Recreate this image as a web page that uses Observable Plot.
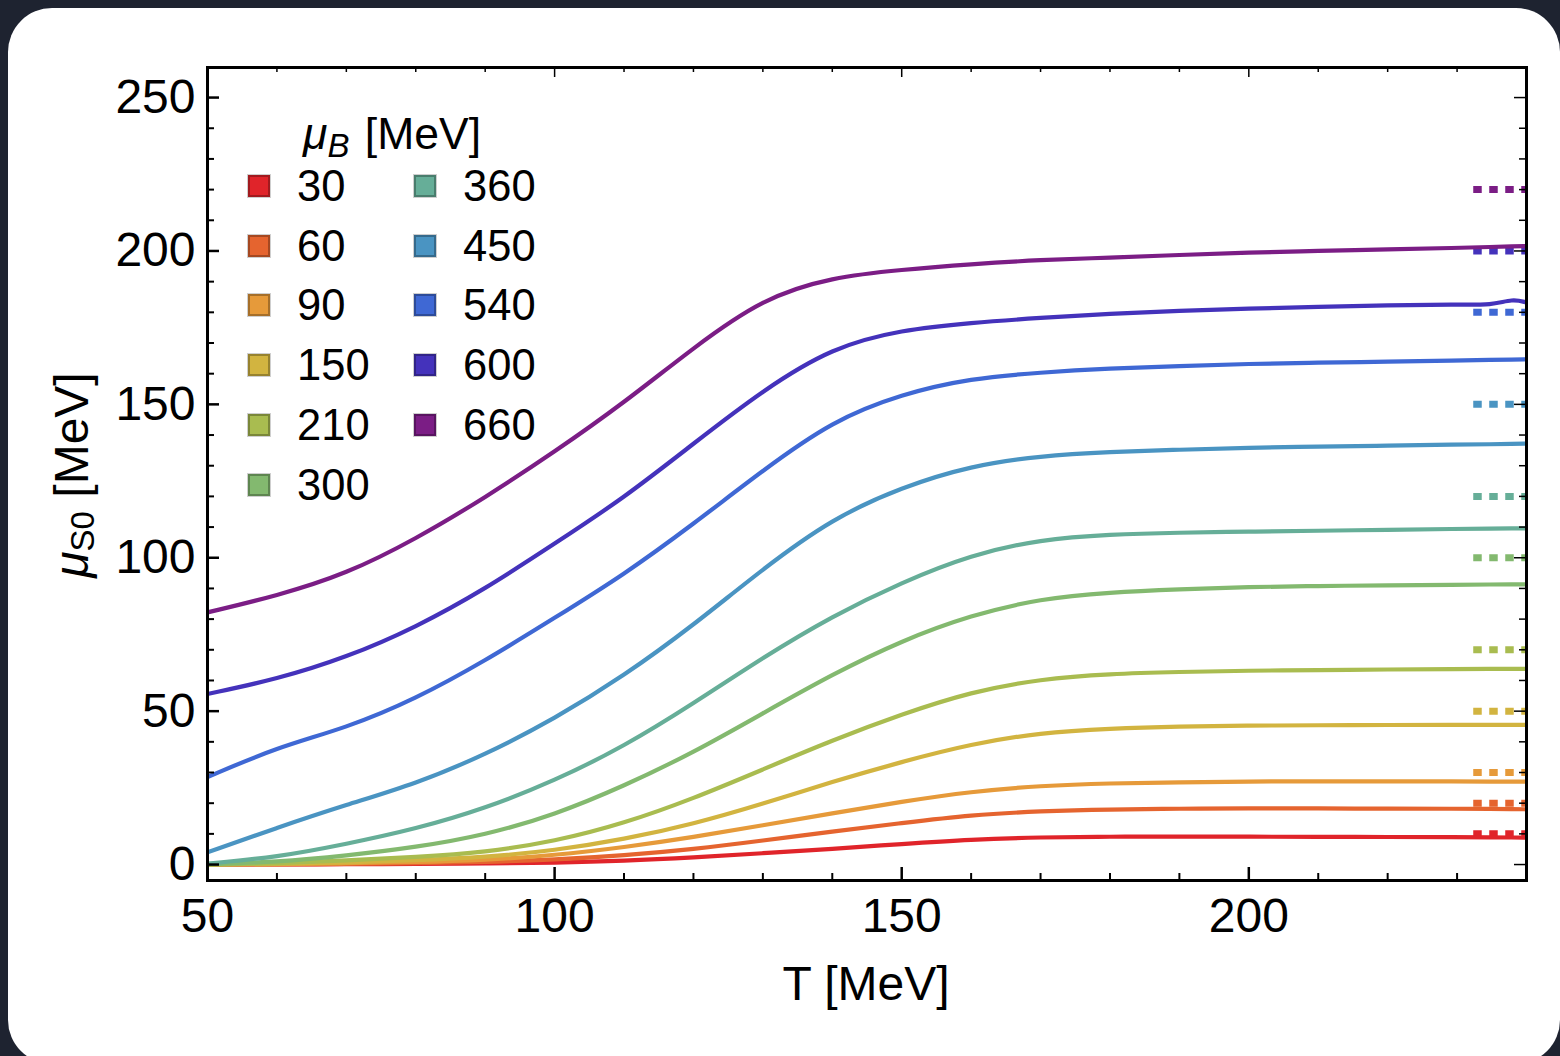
<!DOCTYPE html>
<html>
<head>
<meta charset="utf-8">
<script src="https://cdn.jsdelivr.net/npm/d3@7"></script>
<script src="https://cdn.jsdelivr.net/npm/@observablehq/plot@0.6"></script>
<style>
  html, body { margin: 0; padding: 0; background: #1e2330; width: 1560px; height: 1056px; overflow: hidden; }
  #card { position: absolute; left: 8px; top: 8px; width: 1552px; height: 1056px; background: #fff; border-radius: 44px; }
  #chart { position: absolute; left: 0; top: 0; }
  .txt { position: absolute; font-family: "Liberation Sans", Arial, Helvetica, sans-serif; color: #000; white-space: nowrap; }
  #xlab { left: 866px; top: 960px; font-size: 48px; line-height: 48px; transform: translateX(-50%); }
  #ylab { left: 77px; top: 475px; font-size: 48px; line-height: 48px; transform: translate(-50%, -50%) rotate(-90deg); }
  #ylab sub { font-size: 33px; vertical-align: -6px; }
  #legtitle { left: 303px; top: 112px; font-size: 44.5px; line-height: 44px; }
  #legtitle sub { font-size: 33px; vertical-align: -8px; font-style: italic; margin-right: 3px; }
  #legend { position: absolute; left: 248px; top: 156px; display: grid; grid-auto-flow: column;
            grid-template-rows: repeat(6, 59.8px); grid-template-columns: 166px 160px;
            font-family: "Liberation Sans", Arial, Helvetica, sans-serif; font-size: 43.5px; line-height: 44px; }
  .item { display: flex; align-items: center; }
  .sw { width: 22px; height: 22px; box-sizing: border-box; border: 2px solid rgba(0,0,0,0.28); outline: 1px solid #cfcfcf; margin-right: 27px; }
</style>
</head>
<body>
<div id="card"></div>
<div id="chart"></div>
<div class="txt" id="xlab">T [MeV]</div>
<div class="txt" id="ylab"><i>μ</i><sub>S0</sub> [MeV]</div>
<div class="txt" id="legtitle"><i>μ</i><sub>B</sub> [MeV]</div>
<div id="legend"></div>
<script>
// ---- data ----
const T = [50, 60, 70, 80, 90, 100, 110, 120, 130, 140, 150, 160, 170, 180, 190, 200, 210, 220, 230, 235, 238, 240];

const muB = [30, 60, 90, 150, 210, 300, 360, 450, 540, 600, 660];
const colors = ["#e0242a", "#e5642f", "#e69a3a", "#d2b440", "#a9bc50", "#83b96f", "#66ae98", "#4a94c2", "#3f68d4", "#4432bb", "#7b1d85"];

const mu30  = [0, 0, 0.1, 0.2, 0.3, 0.6, 1.2, 2.3, 3.7, 5.1, 6.7, 8.2, 8.9, 9.1, 9.1, 9.1, 9.0, 9.0, 8.9, 8.9, 8.8, 8.8];
const mu60  = [0, 0.05, 0.2, 0.4, 0.8, 1.6, 3.0, 5.0, 7.8, 10.8, 13.5, 16.2, 17.4, 18.0, 18.2, 18.3, 18.3, 18.2, 18.2, 18.1, 18.1, 18.0];
const mu90  = [0, 0.1, 0.4, 0.8, 1.5, 3.0, 5.6, 8.9, 12.8, 16.7, 20.5, 23.8, 25.7, 26.5, 26.8, 27.1, 27.1, 27.1, 27.1, 27.0, 27.0, 27.0];
const mu150 = [0, 0.2, 0.7, 1.4, 2.4, 4.6, 8.2, 13.2, 19.8, 27.0, 33.5, 39.3, 43.0, 44.3, 45.0, 45.3, 45.4, 45.5, 45.5, 45.5, 45.5, 45.5];
const mu210 = [0, 0.4, 1.3, 2.4, 4.0, 7.5, 13.4, 21.5, 31.0, 40.5, 49.0, 56.3, 60.5, 62.2, 62.8, 63.2, 63.4, 63.6, 63.7, 63.8, 63.8, 63.8];
const mu300 = [0.1, 0.8, 2.9, 5.6, 9.6, 16.2, 25.6, 36.5, 49.3, 62.0, 73.0, 81.3, 86.7, 88.7, 89.7, 90.5, 90.8, 91.0, 91.2, 91.3, 91.3, 91.3];
const mu360 = [0.3, 2.4, 6.7, 11.6, 18.3, 27.3, 38.5, 52.5, 67.5, 81.0, 92.0, 101.0, 106.0, 107.6, 108.2, 108.5, 108.8, 109.1, 109.4, 109.5, 109.6, 109.6];
const mu450 = [4.0, 12.0, 19.5, 26.3, 35.8, 47.5, 61.5, 78.0, 96.4, 112.8, 123.0, 130.0, 133.2, 134.5, 135.2, 135.9, 136.2, 136.5, 136.9, 137.0, 137.1, 137.2];
const mu540 = [28.5, 38.2, 44.5, 54.0, 66.4, 80.4, 94.5, 111.0, 128.5, 144.6, 153.4, 158.5, 160.4, 161.7, 162.5, 163.2, 163.6, 163.9, 164.3, 164.5, 164.6, 164.7];
const mu600 = [55.6, 60.4, 67.5, 77.3, 89.8, 104.6, 119.5, 137.2, 154.6, 168.6, 174.3, 176.6, 178.2, 179.6, 180.5, 181.2, 181.8, 182.3, 182.6, 182.3, 184.4, 183.2];
const mu660 = [82.2, 87.6, 94.7, 106.1, 119.6, 134.5, 150.5, 168.5, 184.6, 191.5, 193.9, 195.7, 197.1, 197.8, 198.7, 199.5, 200.0, 200.5, 201.0, 201.3, 201.5, 201.6];

// high-T limits mu_B/3, drawn as short dotted segments at the right edge
const asymptote = [10, 20, 30, 50, 70, 100, 120, 150, 180, 200, 220];
const asymptoteT = [232.4, 240];

// axes ticks
const xMajor = [50, 100, 150, 200];
const xMinor = [60, 70, 80, 90, 110, 120, 130, 140, 160, 170, 180, 190, 210, 220, 230];
const yMajor = [0, 50, 100, 150, 200, 250];
const yMinor = [10, 20, 30, 40, 60, 70, 80, 90, 110, 120, 130, 140, 160, 170, 180, 190, 210, 220, 230, 240];

// ---- build table ----
const series = [mu30, mu60, mu90, mu150, mu210, mu300, mu360, mu450, mu540, mu600, mu660];
const table = [];
series.forEach((vals, i) => vals.forEach((v, j) => table.push({T: T[j], v, mu: muB[i]})));
const asym = asymptote.map((v, i) => ({v, mu: muB[i]}));

const W = 1560, H = 1056;
const mL = 207, mR = 34, mT = 67, mB = 176;
const pw = W - mL - mR, ph = H - mT - mB;

const chart = Plot.plot({
  width: W, height: H,
  marginLeft: mL, marginRight: mR, marginTop: mT, marginBottom: mB,
  style: {background: "transparent", color: "black", fontFamily: "'Liberation Sans', Arial, Helvetica, sans-serif", fontSize: "48px"},
  x: {domain: [50, 240], label: null},
  y: {domain: [-5.2, 259.8], label: null},
  color: {type: "ordinal", domain: muB, range: colors},
  marks: [
    Plot.ruleY(asym, {y: "v", x1: asymptoteT[0], x2: asymptoteT[1], stroke: "mu", strokeWidth: 7, strokeDasharray: "8.5,7.5"}),
    Plot.line(table, {x: "T", y: "v", z: "mu", stroke: "mu", strokeWidth: 4.2, curve: "basis", clip: "frame"}),
    // inward ticks: left/bottom (heavier), top/right (lighter)
    Plot.tickY(yMajor, {y: d => d, insetRight: pw - 12, strokeWidth: 2.5}),
    Plot.tickY(yMinor, {y: d => d, insetRight: pw - 7, strokeWidth: 2}),
    Plot.tickY(yMajor, {y: d => d, insetLeft: pw - 12, strokeWidth: 1.5}),
    Plot.tickY(yMinor, {y: d => d, insetLeft: pw - 7, strokeWidth: 1.5}),
    Plot.tickX(xMajor, {x: d => d, insetTop: ph - 13, strokeWidth: 2.5}),
    Plot.tickX(xMinor, {x: d => d, insetTop: ph - 7, strokeWidth: 2}),
    Plot.tickX(xMajor, {x: d => d, insetBottom: ph - 10, strokeWidth: 1.5}),
    Plot.tickX(xMinor, {x: d => d, insetBottom: ph - 5, strokeWidth: 1.5}),
    Plot.frame({stroke: "black", strokeWidth: 3}),
    Plot.axisX({ticks: xMajor, tickSize: 0, tickPadding: 17, fontSize: 48, label: null}),
    Plot.axisY({ticks: yMajor, tickSize: 0, tickPadding: 12, fontSize: 48, label: null})
  ]
});
document.getElementById("chart").appendChild(chart);

// ---- legend ----
const leg = document.getElementById("legend");
muB.forEach((m, i) => {
  const it = document.createElement("div");
  it.className = "item";
  const sw = document.createElement("span");
  sw.className = "sw";
  sw.style.background = colors[i];
  const t = document.createElement("span");
  t.textContent = m;
  it.appendChild(sw); it.appendChild(t);
  leg.appendChild(it);
});
</script>
</body>
</html>
